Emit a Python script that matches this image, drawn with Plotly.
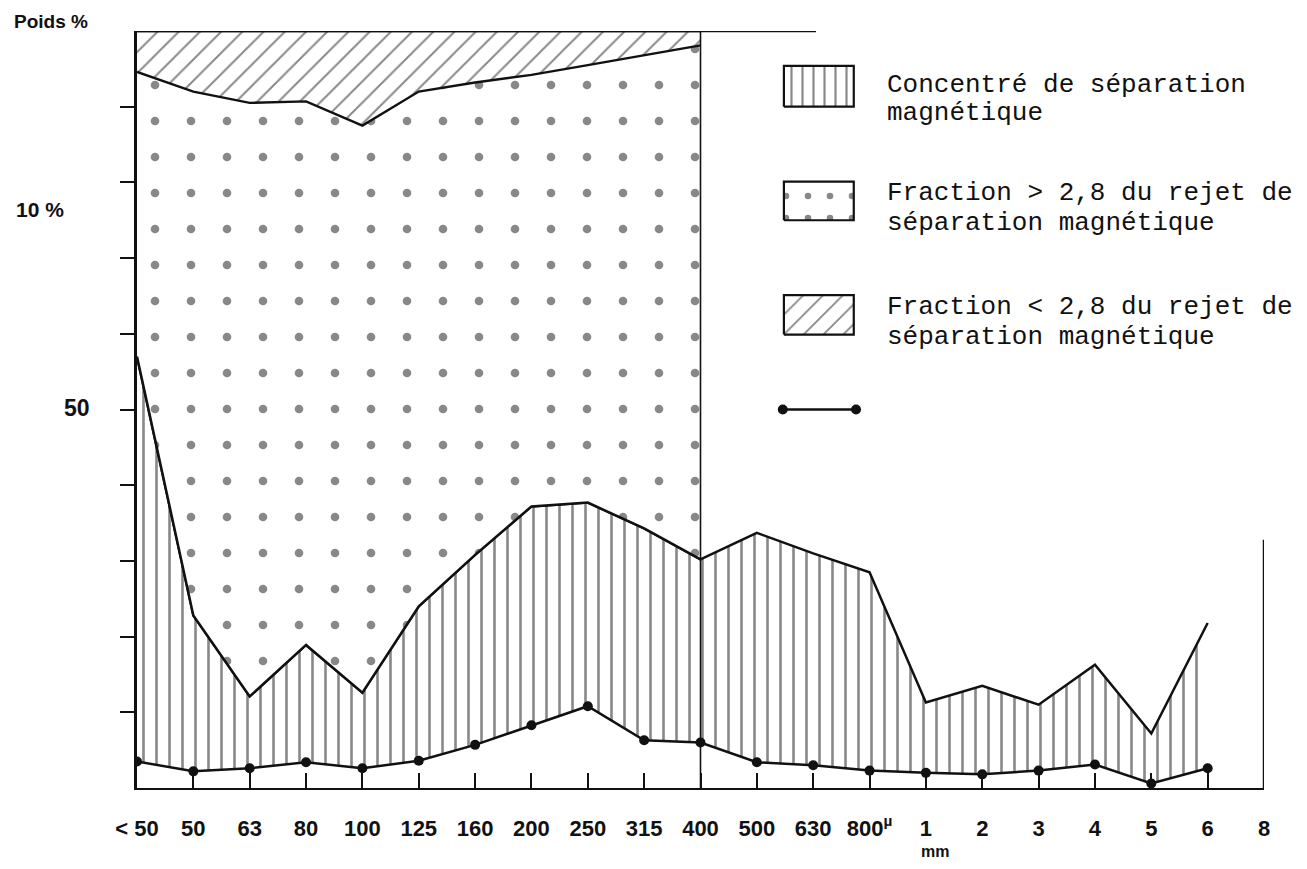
import plotly.graph_objects as go

# ---------------- data ----------------
categories = ["< 50", "50", "63", "80", "100", "125", "160", "200", "250", "315", "400",
              "500", "630", "800<sup>µ</sup>", "1", "2", "3", "4", "5", "6", "8"]

# top of the "Fraction > 2,8" band (only measured up to 400 µ)
fraction_sup_top = [9.46, 9.20, 9.05, 9.07, 8.75, 9.20, 9.32, 9.42, 9.55, 9.68, 9.81]

# top of the magnetic concentrate band
concentrate = [5.70, 2.28, 1.21, 1.89, 1.26, 2.40, 3.08, 3.72, 3.77, 3.43, 3.02,
               3.37, 3.10, 2.85, 1.13, 1.35, 1.10, 1.63, 0.72, 2.18]

# dotted line series
dots_series = [0.35, 0.22, 0.26, 0.34, 0.26, 0.36, 0.57, 0.83, 1.08, 0.63, 0.60,
               0.34, 0.30, 0.23, 0.20, 0.18, 0.23, 0.31, 0.06, 0.26]

y_top = 10.0            # total (top of the frame)
y_ticks = [1, 2, 3, 4, 5, 6, 7, 8, 9]

legend_labels = [
    ["Concentré de séparation", "magnétique"],
    ["Fraction > 2,8 du rejet de", "séparation magnétique"],
    ["Fraction < 2,8 du rejet de", "séparation magnétique"],
]

# ---------------- figure ----------------
x_all = list(range(len(categories)))
x_conc = x_all[:len(concentrate)]
n_left = len(fraction_sup_top)
x_left = x_all[:n_left]

BLACK = "#111111"
fig = go.Figure()

# dotted series (also baseline for the vertical hatch)
fig.add_trace(go.Scatter(
    x=x_conc, y=dots_series, mode="lines+markers",
    line=dict(color=BLACK, width=2.5),
    marker=dict(color=BLACK, size=10),
    showlegend=False, hoverinfo="skip"))

# magnetic concentrate (vertical hatch)
fig.add_trace(go.Scatter(
    x=x_conc, y=concentrate, mode="lines", fill="tonexty",
    fillcolor="white",
    fillpattern=dict(shape="|", size=13, solidity=0.2, fgcolor=BLACK, bgcolor="white"),
    line=dict(color=BLACK, width=2.5),
    showlegend=False, hoverinfo="skip"))

# concentrate restricted to the left part (redrawn line, base of the next band)
fig.add_trace(go.Scatter(
    x=x_left, y=concentrate[:n_left], mode="lines",
    line=dict(color=BLACK, width=2.5),
    showlegend=False, hoverinfo="skip"))

# fraction > 2,8 (sparse dash texture)
fig.add_trace(go.Scatter(
    x=x_left, y=fraction_sup_top, mode="lines", fill="tonexty",
    fillcolor="white",
    fillpattern=dict(shape=".", size=36, solidity=0.045, fgcolor=BLACK, bgcolor="white"),
    line=dict(color=BLACK, width=2.4),
    showlegend=False, hoverinfo="skip"))

# fraction < 2,8 (diagonal hatch up to the top)
fig.add_trace(go.Scatter(
    x=x_left, y=[y_top] * n_left, mode="lines", fill="tonexty",
    fillcolor="white",
    fillpattern=dict(shape="/", size=15, solidity=0.13, fgcolor=BLACK, bgcolor="white"),
    line=dict(color=BLACK, width=2.5),
    showlegend=False, hoverinfo="skip"))

# ---------------- hand-made legend ----------------
LEG_X0, LEG_X1 = 11.48, 12.72
leg_boxes = [(9.0, 9.54), (7.50, 8.01), (5.99, 6.51)]
leg_patterns = [dict(shape="|", size=11, solidity=0.2),
                dict(shape=".", size=22, solidity=0.07),
                dict(shape="/", size=14, solidity=0.13)]
for (y0, y1), pat in zip(leg_boxes, leg_patterns):
    fig.add_trace(go.Scatter(
        x=[LEG_X0, LEG_X1, LEG_X1, LEG_X0, LEG_X0], y=[y0, y0, y1, y1, y0],
        mode="lines", fill="toself", fillcolor="white",
        fillpattern=dict(fgcolor=BLACK, bgcolor="white", **pat),
        line=dict(color=BLACK, width=2.2), showlegend=False, hoverinfo="skip"))

fig.add_trace(go.Scatter(
    x=[11.46, 12.76], y=[5.0, 5.0], mode="lines+markers",
    line=dict(color=BLACK, width=2.5), marker=dict(color=BLACK, size=10),
    showlegend=False, hoverinfo="skip"))

TEXT_X = 13.28
leg_text_y = [(9.29, 8.92), (7.86, 7.47), (6.36, 5.96)]
mono = dict(family="Liberation Mono, Courier New, monospace", size=26, color=BLACK)
for lines, ys in zip(legend_labels, leg_text_y):
    for txt, yy in zip(lines, ys):
        fig.add_annotation(x=TEXT_X, y=yy, xref="x", yref="y", text=txt,
                           showarrow=False, xanchor="left", yanchor="middle", font=mono)

# ---------------- frame lines ----------------
fig.add_shape(type="line", x0=0, x1=12.05, y0=y_top, y1=y_top,
              line=dict(color=BLACK, width=2.5))
fig.add_shape(type="line", x0=n_left - 1, x1=n_left - 1, y0=0, y1=y_top,
              line=dict(color=BLACK, width=1.6))
fig.add_shape(type="line", x0=len(categories) - 1, x1=len(categories) - 1, y0=-0.13, y1=3.28,
              line=dict(color=BLACK, width=2.5))

# ---------------- axis texts ----------------
SANS = "Liberation Sans, Arial, sans-serif"
def sans(size):
    return dict(family=SANS, size=size, color=BLACK, weight="bold")

fig.add_annotation(x=-0.0763, y=1.0126, xref="paper", yref="paper", text="Poids %",
                   xanchor="center", yanchor="middle", showarrow=False, font=sans(19))
fig.add_annotation(x=-0.0532, y=0.5026, xref="paper", yref="paper", text="50",
                   xanchor="center", yanchor="middle", showarrow=False, font=sans(23))
fig.add_annotation(x=-0.0861, y=0.764, xref="paper", yref="paper", text="10 %",
                   xanchor="center", yanchor="middle", showarrow=False, font=sans(21))
fig.add_annotation(x=0.7080, y=-0.0845, xref="paper", yref="paper", text="mm",
                   xanchor="center", yanchor="middle", showarrow=False, font=sans(16))

fig.update_layout(
    width=1291, height=853,
    margin=dict(l=129, r=35, t=23, b=73),
    paper_bgcolor="white", plot_bgcolor="white",
    showlegend=False,
    xaxis=dict(range=[0, len(categories) - 1], tickmode="array", tickvals=x_all,
               ticktext=categories, showgrid=False, zeroline=False,
               showline=True, linecolor=BLACK, linewidth=2.2,
               ticks="inside", ticklen=15, tickwidth=1.6, tickcolor=BLACK,
               tickfont=sans(22), ticklabelstandoff=19),
    yaxis=dict(range=[0, y_top], tickmode="array", tickvals=y_ticks,
               showticklabels=False, showgrid=False, zeroline=False,
               showline=True, linecolor=BLACK, linewidth=2.6,
               ticks="outside", ticklen=14, tickwidth=1.6, tickcolor=BLACK),
)

fig.write_html("out.html")
